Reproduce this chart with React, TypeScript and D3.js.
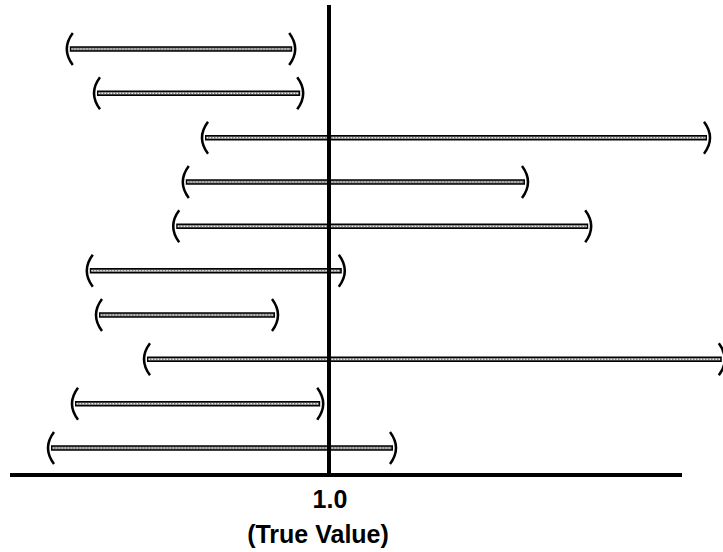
import React, { useEffect, useRef } from 'react';
import * as d3 from 'd3';

// confidence intervals, top to bottom
const studies = ['S1', 'S2', 'S3', 'S4', 'S5', 'S6', 'S7', 'S8', 'S9', 'S10'];
const lower = [0.352, 0.42, 0.69, 0.642, 0.618, 0.402, 0.425, 0.545, 0.365, 0.305];
const upper = [0.908, 0.928, 1.945, 1.49, 1.648, 1.032, 0.865, 1.982, 0.978, 1.16];
const trueValue = 1.0;
const tickLabel = '1.0';
const caption = '(True Value)';

function App() {
    const svgRef = useRef<SVGSVGElement>(null);
    const width = 723;
    const height = 552;

    useEffect(() => {
        const svg = d3.select(svgRef.current)
            .attr('width', width)
            .attr('height', height);
        svg.selectAll('*').remove();

        const xScale = d3.scaleLinear()
            .domain([0, 2])
            .range([-71, 729]);

        const yScale = d3.scalePoint()
            .domain(studies)
            .range([49, 448]);

        const axisY = 475;
        const font = '"Liberation Sans", Arial, Helvetica, sans-serif';

        // horizontal axis
        svg.append('line')
            .attr('x1', 10)
            .attr('x2', 682)
            .attr('y1', axisY)
            .attr('y2', axisY)
            .attr('stroke', '#000')
            .attr('stroke-width', 4);

        const bars = svg.append('g').attr('class', 'bars')
            .selectAll('g')
            .data(studies)
            .enter()
            .append('g');

        // outer black bar
        bars.append('line')
            .attr('x1', (d, i) => xScale(lower[i]))
            .attr('x2', (d, i) => xScale(upper[i]))
            .attr('y1', d => yScale(d)!)
            .attr('y2', d => yScale(d)!)
            .attr('stroke', '#000')
            .attr('stroke-width', 5.5);

        // grey core
        bars.append('line')
            .attr('x1', (d, i) => xScale(lower[i]) + 1.5)
            .attr('x2', (d, i) => xScale(upper[i]) - 1.5)
            .attr('y1', d => yScale(d)!)
            .attr('y2', d => yScale(d)!)
            .attr('stroke', '#808080')
            .attr('stroke-width', 2.5);

        // light dots
        bars.append('line')
            .attr('x1', (d, i) => xScale(lower[i]) + 1.5)
            .attr('x2', (d, i) => xScale(upper[i]) - 1.5)
            .attr('y1', d => yScale(d)!)
            .attr('y2', d => yScale(d)!)
            .attr('stroke', '#e8e8e8')
            .attr('stroke-width', 1.2)
            .attr('stroke-dasharray', '1.5 1.5');

        // parentheses at each end
        bars.append('path')
            .attr('d', (d, i) => {
                const x = xScale(lower[i]);
                const y = yScale(d)!;
                return `M${x + 3},${y - 16} Q${x - 9},${y} ${x + 3},${y + 16}`;
            })
            .attr('fill', 'none')
            .attr('stroke', '#000')
            .attr('stroke-width', 2.5);

        bars.append('path')
            .attr('d', (d, i) => {
                const x = xScale(upper[i]);
                const y = yScale(d)!;
                return `M${x - 3},${y - 16} Q${x + 9},${y} ${x - 3},${y + 16}`;
            })
            .attr('fill', 'none')
            .attr('stroke', '#000')
            .attr('stroke-width', 2.5);

        // true value line
        svg.append('line')
            .attr('x1', xScale(trueValue))
            .attr('x2', xScale(trueValue))
            .attr('y1', 5)
            .attr('y2', axisY)
            .attr('stroke', '#000')
            .attr('stroke-width', 4);

        svg.append('text')
            .attr('x', xScale(trueValue) + 1)
            .attr('y', 508)
            .attr('text-anchor', 'middle')
            .attr('font-family', font)
            .attr('font-weight', 'bold')
            .attr('font-size', 25)
            .text(tickLabel);

        svg.append('text')
            .attr('x', xScale(trueValue) - 11)
            .attr('y', 543)
            .attr('text-anchor', 'middle')
            .attr('font-family', font)
            .attr('font-weight', 'bold')
            .attr('font-size', 25)
            .text(caption);
    }, []);

    return (
        <svg ref={svgRef} style={{ position: 'absolute', left: 0, top: 0, background: '#fff' }} />
    );
}

export default App;
